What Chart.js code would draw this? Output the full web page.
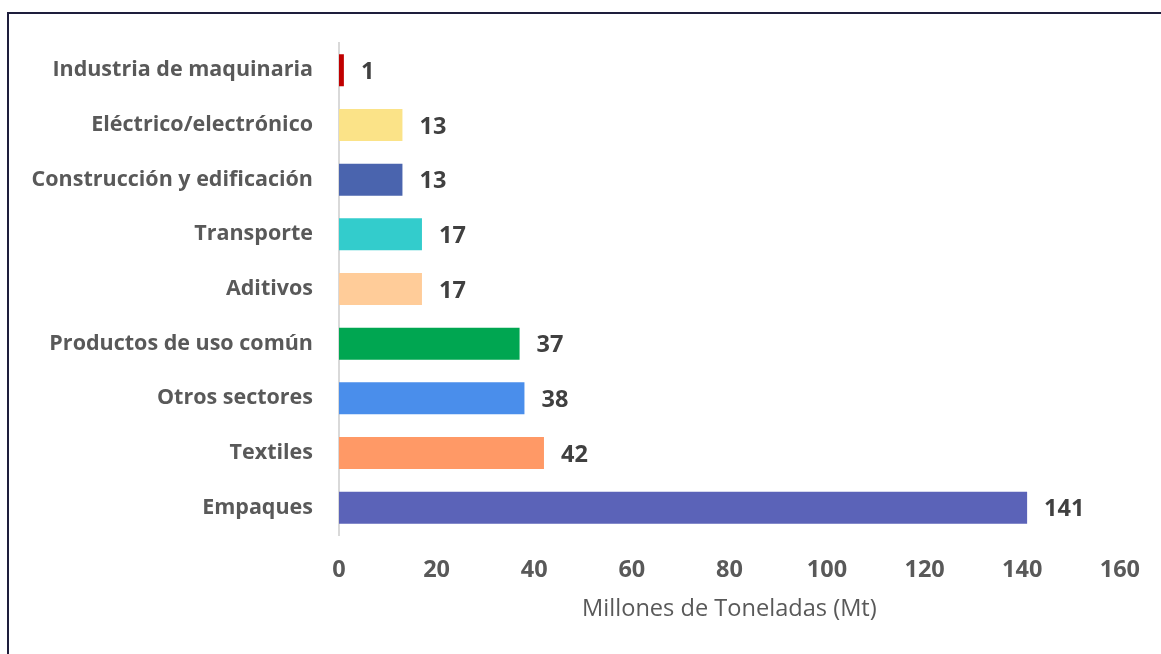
<!DOCTYPE html>
<html>
<head>
<meta charset="utf-8">
<script src="https://cdn.jsdelivr.net/npm/chart.js@4.4.1/dist/chart.umd.min.js"></script>
<style>
html,body{margin:0;padding:0;background:#fff;}
#wrap{position:relative;width:1161px;height:654px;overflow:hidden;}
#frame{position:absolute;left:7px;top:12px;width:1200px;height:700px;border-left:2px solid #1e1e3c;border-top:2px solid #1e1e3c;box-sizing:border-box;pointer-events:none;}
canvas{position:absolute;left:0;top:0;}
</style>
</head>
<body>
<div id="wrap">
<canvas id="chart" width="1161" height="654"></canvas>
<div id="frame"></div>
</div>
<script>
let sectores=["Industria de maquinaria","Eléctrico/electrónico","Construcción y edificación","Transporte","Aditivos","Productos de uso común","Otros sectores","Textiles","Empaques"];
let toneladas=[1,13,13,17,17,37,38,42,141];
let colores=["#c00000","#fbe388","#4a64ae","#33cccc","#ffcc99","#00a651","#4a8eeb","#ff9966","#5b63b8"];
let ticksX=[0,20,40,60,80,100,120,140,160];

let chart;

// etiquetas de valor al final de cada barra
const etiquetas={
    id:"etiquetas",
    afterDatasetsDraw(c){
        let ctx=c.ctx;
        let meta=c.getDatasetMeta(0);
        ctx.save();
        ctx.font="bold 23.5px 'Open Sans'";
        ctx.fillStyle="#404040";
        ctx.textAlign="left";
        ctx.textBaseline="middle";
        meta.data.forEach(function(bar,i){
            ctx.fillText(String(toneladas[i]),bar.x+17,bar.y+2);
        });
        ctx.restore();
    }
};

window.onload=function(){

    let ctx=document.getElementById("chart");

    chart=new Chart(ctx,{
        type:"bar",
        data:{
            labels:sectores,
            datasets:[
                {
                    data:toneladas,
                    backgroundColor:colores,
                    categoryPercentage:1,
                    barPercentage:0.585
                }
            ]
        },
        options:{
            indexAxis:"y",
            responsive:false,
            animation:false,
            layout:{padding:{left:0,right:39,top:43,bottom:0}},
            plugins:{legend:{display:false},tooltip:{enabled:false}},
            scales:{
                x:{
                    min:0,
                    max:160,
                    afterBuildTicks:function(s){s.ticks=ticksX.map(v=>({value:v}));},
                    afterFit:function(s){s.height=119;},
                    grid:{display:false,drawTicks:false},
                    border:{display:false},
                    ticks:{padding:21,color:"#595959",font:{family:"Open Sans",size:23.5,weight:"bold"},maxRotation:0},
                    title:{display:true,text:"Millones de Toneladas (Mt)",color:"#595959",font:{family:"Open Sans",size:23.6},padding:{top:12,bottom:31}}
                },
                y:{
                    afterFit:function(s){s.width=339;},
                    grid:{display:false,drawTicks:false},
                    border:{display:true,color:"#d9d9d9",width:2},
                    ticks:{padding:26,color:"#595959",font:{family:"Open Sans",size:21.5,weight:"bold"}}
                }
            }
        },
        plugins:[etiquetas]
    });
}
</script>
</body>
</html>
